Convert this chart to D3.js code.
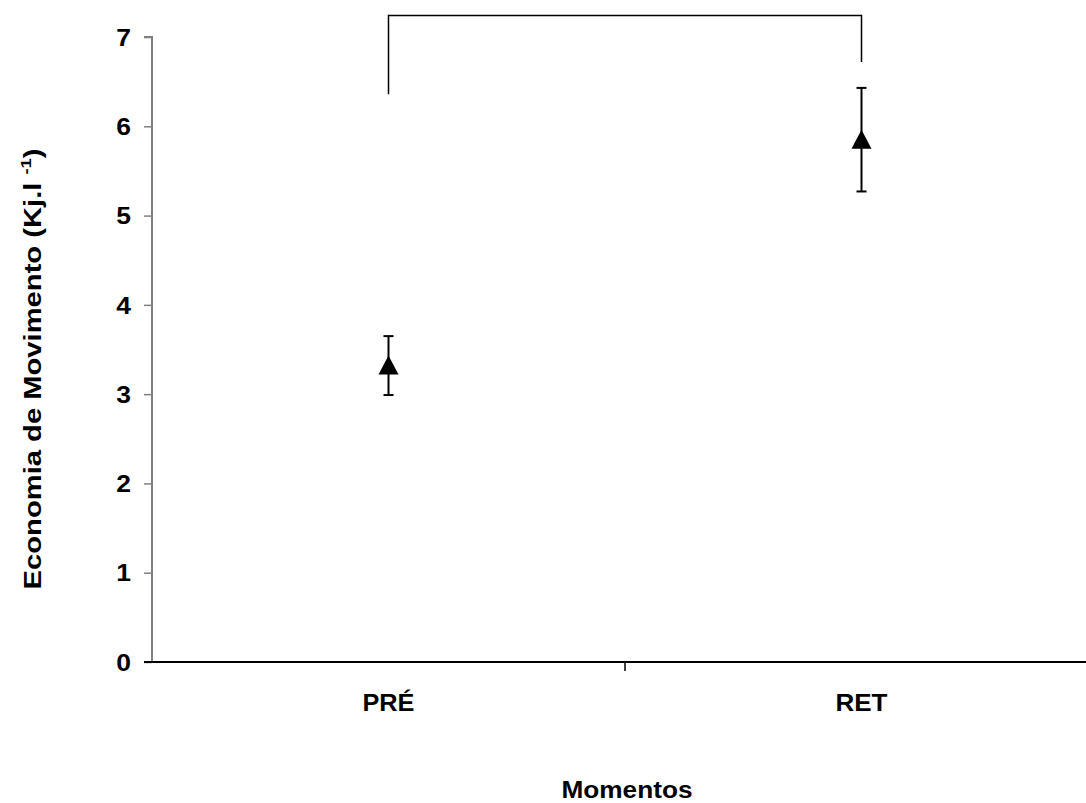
<!DOCTYPE html>
<head>
  <meta charset="utf-8">
  <script src='https://d3js.org/d3.v7.min.js'></script>
  <style>
    body {
      font-family: "Liberation Sans", Arial, sans-serif;
      margin: 0;
      background: #fff;
    }
  </style>
</head>

<body>
<div id='vis'></div>

<script>
const categories = ['PRÉ', 'RET'];
const means = [3.32, 5.85];
const upper = [3.65, 6.43];
const lower = [2.99, 5.27];
const yTicks = [0, 1, 2, 3, 4, 5, 6, 7];
// significance bracket: top level, left leg end, right leg end
const bracket = [7.24, 6.36, 6.72];

const width = 1086;
const height = 803;
const margin = { top: 37, left: 152, bottom: 141, right: -12 };
const font = '"Liberation Sans", Arial, sans-serif';

const svg = d3.select('#vis')
  .append('svg')
  .attr('width', width)
  .attr('height', height);

const x = d3.scaleBand()
  .domain(categories)
  .range([margin.left, width - margin.right]);

const y = d3.scaleLinear()
  .domain([0, 7])
  .range([height - margin.bottom, margin.top]);

const cx = d => x(d) + x.bandwidth() / 2;

// text in the original is a bit wider than plain Arial bold
function stretch(sel, k) {
  sel.each(function() {
    const len = this.getComputedTextLength();
    d3.select(this).attr('textLength', len * k).attr('lengthAdjust', 'spacingAndGlyphs');
  });
}

// y axis (grey)
const yAxis = svg.append('g')
  .attr('transform', `translate(${margin.left},0)`)
  .call(d3.axisLeft(y).tickValues(yTicks).tickSize(8).tickPadding(13).tickFormat(d3.format('d')));
yAxis.select('.domain').attr('stroke', '#808080').attr('stroke-width', 2).attr('d', `M-8,${y(7)}H0V${y(0)}`);
yAxis.selectAll('.tick line').attr('stroke', '#808080').attr('stroke-width', 1.5);
yAxis.selectAll('.tick text')
  .attr('fill', '#000')
  .attr('dy', '0.36em')
  .style('font-size', '23px')
  .style('font-weight', 'bold')
  .style('font-family', font)
  .call(stretch, 1.15);

// x axis (black)
const xAxis = svg.append('g')
  .attr('transform', `translate(0,${y(0)})`)
  .call(d3.axisBottom(x).tickSize(0).tickPadding(32));
xAxis.select('.domain').attr('stroke', '#000').attr('stroke-width', 2)
  .attr('d', `M${margin.left - 8},0H${width}`);
xAxis.selectAll('.tick text')
  .attr('fill', '#000')
  .attr('dy', null)
  .attr('y', 49)
  .style('font-size', '24px')
  .style('font-weight', 'bold')
  .style('font-family', font)
  .attr('textLength', 52)
  .attr('lengthAdjust', 'spacingAndGlyphs');
// category separator tick
xAxis.append('line')
  .attr('x1', x(categories[1])).attr('x2', x(categories[1]))
  .attr('y1', 0).attr('y2', 9)
  .attr('stroke', '#000').attr('stroke-width', 1.5);

// error bars
const g = svg.append('g');
categories.forEach((c, i) => {
  g.append('line')
    .attr('x1', cx(c)).attr('x2', cx(c))
    .attr('y1', y(lower[i])).attr('y2', y(upper[i]))
    .attr('stroke', '#000').attr('stroke-width', 2);
  [lower[i], upper[i]].forEach(v => {
    g.append('line')
      .attr('x1', cx(c) - 5).attr('x2', cx(c) + 5)
      .attr('y1', y(v)).attr('y2', y(v))
      .attr('stroke', '#000').attr('stroke-width', 2);
  });
});

// triangle markers
g.selectAll('.pt')
  .data(categories)
  .join('path')
  .attr('class', 'pt')
  .attr('d', 'M0,-10L10,9L-10,9Z')
  .attr('transform', (d, i) => `translate(${cx(d)},${y(means[i])})`)
  .attr('fill', '#000');

// significance bracket
svg.append('path')
  .attr('d', `M${cx(categories[0])},${y(bracket[1])}V${y(bracket[0])}H${cx(categories[1])}V${y(bracket[2])}`)
  .attr('fill', 'none')
  .attr('stroke', '#000')
  .attr('stroke-width', 1.5);

// axis titles
svg.append('text')
  .attr('x', 627)
  .attr('y', 798)
  .attr('text-anchor', 'middle')
  .style('font-size', '23px')
  .style('font-weight', 'bold')
  .attr('textLength', 131)
  .attr('lengthAdjust', 'spacingAndGlyphs')
  .text('Momentos');

const yt = svg.append('g')
  .attr('transform', 'translate(41,369) rotate(-90)')
  .append('text')
  .attr('text-anchor', 'middle')
  .style('font-size', '24px')
  .style('font-weight', 'bold');
yt.append('tspan').text('Economia de Movimento (Kj.l ');
yt.append('tspan').attr('dy', -10).style('font-size', '15px').text('-1');
yt.append('tspan').attr('dy', 10).text(')');
// widen the title to the original's length
const bb = yt.node().getBBox();
yt.attr('transform', `scale(${441 / bb.width},1)`);
</script>
</body>
